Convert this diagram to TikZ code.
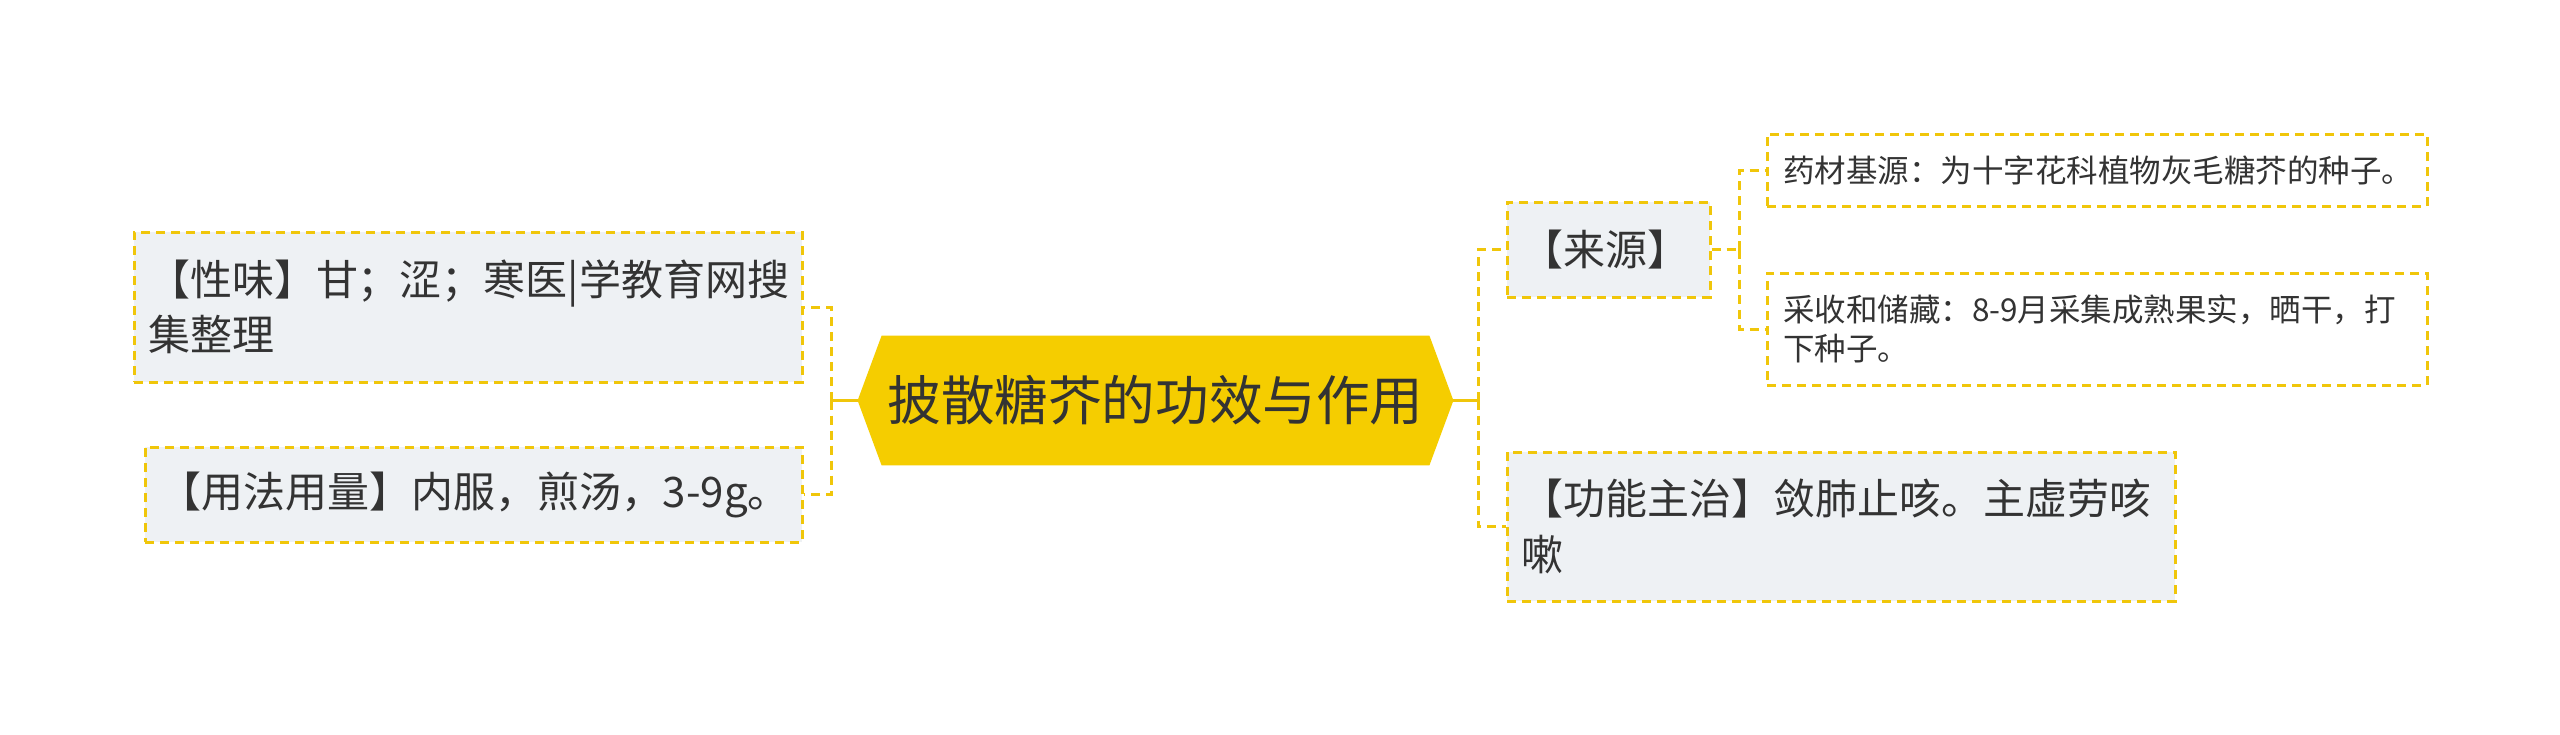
\documentclass[tikz,border=0pt]{standalone}
\usepackage{fontspec}
\setmainfont{Noto Sans CJK SC}
\usetikzlibrary{positioning,calc,backgrounds}
\definecolor{mapyellow}{HTML}{F5CD00}
\definecolor{lineyellow}{HTML}{F0C60A}
\definecolor{boxgray}{HTML}{EEF1F4}
\definecolor{txtgray}{HTML}{333333}

\begin{document}
\begin{tikzpicture}[
  x=0.5pt, y=-0.5pt,
  font=\fontsize{21pt}{27.8pt}\selectfont, text=txtgray,
  rootbox/.style={minimum width=273.5pt, minimum height=64.5pt, inner sep=0pt,
                  font=\fontsize{26.8pt}{32pt}\selectfont},
  topic/.style={draw=lineyellow, line width=1.5pt, dash pattern=on 4.5pt off 3pt,
                fill=boxgray, align=left, inner xsep=7pt, inner ysep=0pt},
  subtopic/.style={topic, fill=white, inner xsep=8pt,
                   font=\fontsize{15.75pt}{19.6pt}\selectfont},
  stem/.style={lineyellow, line width=1.5pt},
  branch/.style={stem, dash pattern=on 4.5pt off 3pt}
]
\useasboundingbox (0,0) rectangle (2560,734);
% Centre topic
\node[rootbox] (root) at (1155.5,400.5) {披散糖芥的功效与作用};
\coordinate (rootW) at ($(root.west)+(-24,0)$);
\coordinate (rootE) at ($(root.east)+(24,0)$);
% Left branch
\node[topic, text width=320pt, minimum height=75pt] (xingwei) at (468,307)
  {【性味】甘；涩；寒医|学教育网搜\\集整理};
\node[topic, text width=314.5pt, minimum height=47.5pt] (yongfa) at (473.5,494.5)
  {\mbox{【用法用量】内服，煎汤，3-9g。}};
% Right branch
\node[topic, text width=87.5pt, minimum height=47.5pt] (laiyuan) at (1608.5,249.5) {【来源】};
\node[topic, text width=320pt, minimum height=74.5pt] (gongneng) at (1841,526.5)
  {【功能主治】敛肺止咳。主虚劳咳\\嗽};
\node[subtopic, text width=314pt, minimum height=36pt] (jiyuan) at (2097,170)
  {药材基源：为十字花科植物灰毛糖芥的种子。};
\node[subtopic, text width=314pt, minimum height=56pt] (caishou) at (2097,329)
  {\mbox{采收和储藏：8-9月采集成熟果实，晒干，打}\\下种子。};
% Connectors
\coordinate (lj) at (831,400.5);
\coordinate (rj) at (1478,400.5);
\coordinate (sj) at (1739,249.5);
\draw[stem] (rootW) -- (lj);
\draw[branch] (lj) |- (xingwei.east);
\draw[branch] (lj) |- (yongfa.east);
\draw[stem] (rootE) -- (rj);
\draw[branch] (rj) |- (laiyuan.west);
\draw[branch] (rj) |- (gongneng.west);
\draw[branch] (laiyuan.east) -- (sj);
\draw[branch] (sj) |- (jiyuan.west);
\draw[branch] (sj) |- (caishou.west);
% Hexagon and page behind
\begin{scope}[on background layer]
  \fill[white] (0,0) rectangle (2560,734);
  \fill[mapyellow] (root.north west) -- (root.north east) -- (rootE)
    -- (root.south east) -- (root.south west) -- (rootW) -- cycle;
\end{scope}
\end{tikzpicture}
\end{document}
